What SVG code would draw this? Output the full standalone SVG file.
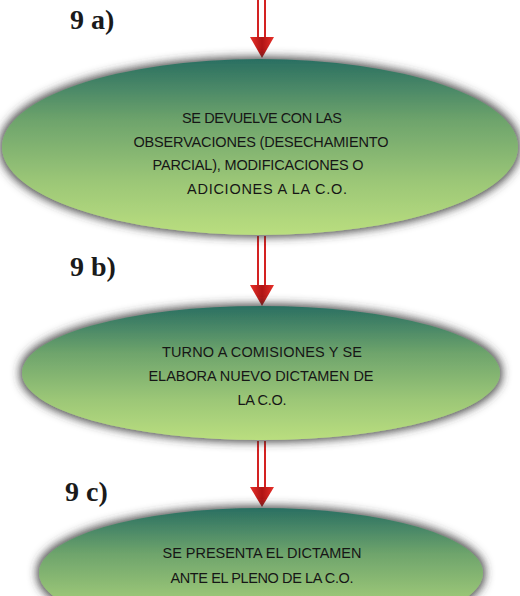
<svg xmlns="http://www.w3.org/2000/svg" width="520" height="596" viewBox="0 0 520 596">
  <defs>
    <linearGradient id="g" x1="0" y1="0" x2="0" y2="1">
      <stop offset="0" stop-color="#2a6f62"/>
      <stop offset="0.35" stop-color="#6ea46c"/>
      <stop offset="0.7" stop-color="#9cc777"/>
      <stop offset="1" stop-color="#bade7f"/>
    </linearGradient>
    <linearGradient id="ah" x1="0" y1="0" x2="1" y2="0">
      <stop offset="0" stop-color="#e8302a"/>
      <stop offset="0.5" stop-color="#b01414"/>
      <stop offset="1" stop-color="#e8302a"/>
    </linearGradient>
    <filter id="sh" x="-10%" y="-30%" width="120%" height="160%">
      <feMorphology in="SourceAlpha" operator="dilate" radius="2" result="d"/>
      <feGaussianBlur in="d" stdDeviation="5" result="b"/>
      <feFlood flood-color="#333333" flood-opacity="0.9"/>
      <feComposite in2="b" operator="in" result="s"/>
      <feMerge><feMergeNode in="s"/><feMergeNode in="SourceGraphic"/></feMerge>
    </filter>
  </defs>
  <style>
    .node ellipse { fill: url(#g); filter: url(#sh); }
    .t { font-family: "Liberation Sans", "DejaVu Sans", sans-serif; font-size: 14.5px; fill: #161616; text-anchor: middle; }
    .lbl { font-family: "Liberation Serif", "Times New Roman", serif; font-size: 28px; font-weight: bold; fill: #1a1a1a; }
    .ln { stroke: #d42222; stroke-width: 2; fill: none; }
    .hd { fill: url(#ah); }
  </style>

  <g id="connectors">
    <line class="ln" x1="258" y1="0" x2="258" y2="38"/>
    <line class="ln" x1="265" y1="0" x2="265" y2="38"/>
    <polygon class="hd" points="250,37 274,37 262,58"/>

    <line class="ln" x1="258" y1="236" x2="258" y2="286"/>
    <line class="ln" x1="265" y1="236" x2="265" y2="286"/>
    <polygon class="hd" points="250,285 274,285 262,306"/>

    <line class="ln" x1="258" y1="441" x2="258" y2="488"/>
    <line class="ln" x1="265" y1="441" x2="265" y2="488"/>
    <polygon class="hd" points="250,487 274,487 262,507"/>
  </g>

  <g id="labels">
    <text class="lbl" x="70" y="29">9 a)</text>
    <text class="lbl" x="70" y="276">9 b)</text>
    <text class="lbl" x="65" y="501">9 c)</text>
  </g>

  <g id="node-9a" class="node">
    <ellipse cx="260" cy="147" rx="258" ry="88"/>
    <text class="t" x="262" y="123" textLength="160">SE DEVUELVE CON LAS</text>
    <text class="t" x="261" y="147" textLength="255">OBSERVACIONES (DESECHAMIENTO</text>
    <text class="t" x="258" y="170" textLength="211">PARCIAL), MODIFICACIONES O</text>
    <text class="t" x="267" y="194" textLength="160">ADICIONES A LA C.O.</text>
  </g>

  <g id="node-9b" class="node">
    <ellipse cx="261" cy="373" rx="239" ry="67"/>
    <text class="t" x="262" y="357" textLength="200">TURNO A COMISIONES Y SE</text>
    <text class="t" x="261" y="381" textLength="225">ELABORA NUEVO DICTAMEN DE</text>
    <text class="t" x="262" y="405" textLength="49">LA C.O.</text>
  </g>

  <g id="node-9c" class="node">
    <ellipse cx="261" cy="573" rx="222" ry="65"/>
    <text class="t" x="262" y="558" textLength="199">SE PRESENTA EL DICTAMEN</text>
    <text class="t" x="262" y="583" textLength="183">ANTE EL PLENO DE LA C.O.</text>
  </g>
</svg>
